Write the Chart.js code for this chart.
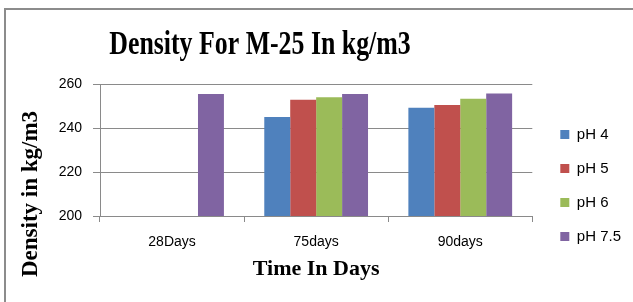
<!DOCTYPE html>
<html lang="en">
<head>
    <meta charset="UTF-8">
    <title>Density For M-25 In kg/m3</title>
    <style>
        body {
            margin: 0;
            background: white;
        }

        .wrap {
            position: relative;
            width: 633px;
            height: 302px;
        }

        .frame {
            position: absolute;
            left: 4px;
            top: 8px;
            width: 640px;
            height: 300px;
            border-left: 2px solid #8c8c8c;
            border-top: 2px solid #8c8c8c;
            pointer-events: none;
        }
    </style>
    <script src="https://cdn.jsdelivr.net/npm/chart.js"></script>
</head>
<body>

    <div class="wrap">
        <canvas id="densityChart" width="633" height="302"></canvas>
        <div class="frame"></div>
    </div>

    <script>
        const chartTitle = 'Density For M-25 In kg/m3';
        const yTitle = 'Density in kg/m3';
        const xTitle = 'Time In Days';

        const days = ['28Days', '75days', '90days'];
        const seriesNames = ['pH 4', 'pH 5', 'pH 6', 'pH 7.5'];
        const ph4 = [null, 245, 249.2];
        const ph5 = [null, 252.8, 250.4];
        const ph6 = [null, 254, 253.3];
        const ph75 = [255.5, 255.4, 255.7];
        const colors = ['#4F81BD', '#C0504D', '#9BBB59', '#8064A2'];

        const gridGrey = '#8a8a8a';

        // titles drawn by hand so they can sit where Excel put them
        const titlesPlugin = {
            id: 'titles',
            afterLayout(chart) {
                // nudge the legend to the Excel spot
                chart.legend.left += 9;
                chart.legend.top += 24;
            },
            afterDraw(chart) {
                const ctx = chart.ctx;
                ctx.save();
                ctx.fillStyle = '#000';
                ctx.font = 'bold 34px "Liberation Serif"';
                ctx.textAlign = 'center';
                ctx.textBaseline = 'alphabetic';
                ctx.translate(260, 54);
                ctx.scale(0.76, 1);
                ctx.fillText(chartTitle, 0, 0);
                ctx.restore();

                ctx.save();
                ctx.fillStyle = '#000';
                ctx.font = 'bold 23px "Liberation Serif"';
                ctx.textAlign = 'center';
                ctx.textBaseline = 'alphabetic';
                ctx.translate(37, 194);
                ctx.rotate(-Math.PI / 2);
                ctx.fillText(yTitle, 0, 0);
                ctx.restore();
            }
        };

        const ctx = document.getElementById('densityChart').getContext('2d');
        const chart = new Chart(ctx, {
            type: 'bar',
            data: {
                labels: days,
                datasets: [ph4, ph5, ph6, ph75].map((vals, i) => ({
                    label: seriesNames[i],
                    data: vals,
                    backgroundColor: colors[i],
                    categoryPercentage: 0.72,
                    barPercentage: 1.0
                }))
            },
            options: {
                animation: false,
                responsive: false,
                layout: {
                    padding: { top: 84, left: 0, right: 11, bottom: 0 }
                },
                plugins: {
                    title: { display: false },
                    tooltip: { enabled: false },
                    legend: {
                        position: 'right',
                        align: 'start',
                        labels: {
                            boxWidth: 9,
                            boxHeight: 9,
                            padding: 19,
                            color: '#000',
                            font: { family: '"Liberation Sans"', size: 15 }
                        }
                    }
                },
                scales: {
                    x: {
                        afterFit(scale) { scale.height = 86; },
                        grid: {
                            drawOnChartArea: false,
                            tickLength: 6,
                            color: gridGrey
                        },
                        border: { color: gridGrey },
                        ticks: {
                            color: '#000',
                            padding: 12,
                            font: { family: '"Liberation Sans"', size: 14 }
                        },
                        title: {
                            display: true,
                            text: xTitle,
                            color: '#000',
                            padding: { top: 0, bottom: 19 },
                            font: { family: '"Liberation Serif"', size: 22, weight: 'bold' }
                        }
                    },
                    y: {
                        min: 200,
                        max: 260,
                        afterFit(scale) { scale.width = 100; },
                        grid: {
                            tickLength: 7,
                            color: gridGrey
                        },
                        border: { color: gridGrey },
                        ticks: {
                            stepSize: 20,
                            color: '#000',
                            padding: 11,
                            font: { family: '"Liberation Sans"', size: 14 }
                        }
                    }
                }
            },
            plugins: [titlesPlugin]
        });
    </script>

</body>
</html>
